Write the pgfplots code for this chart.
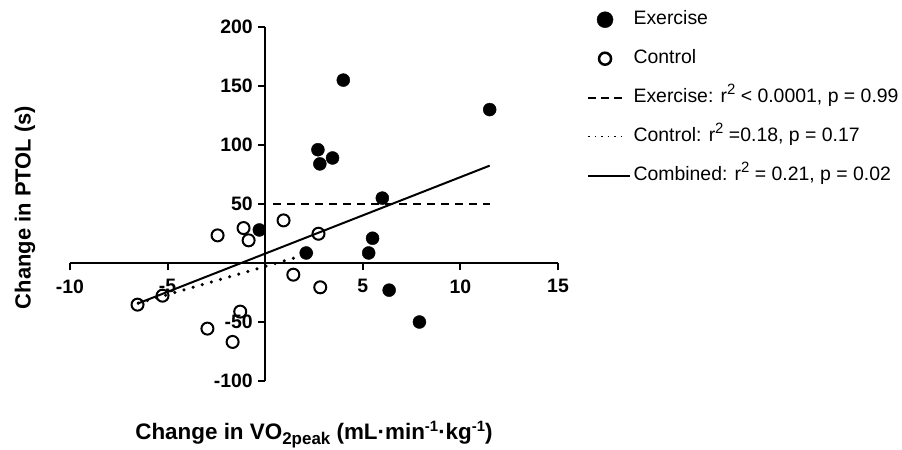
\documentclass[border=0pt]{standalone}
\usepackage{fontspec}
\setmainfont{Liberation Sans}
\usepackage{pgfplots}
\pgfplotsset{compat=1.18}
\newcommand{\subt}[1]{\raisebox{-4.5bp}{\fontsize{17}{17}\selectfont #1}}
\newcommand{\supt}[1]{\raisebox{8bp}{\fontsize{15}{15}\selectfont #1}}
\begin{document}
\begin{tikzpicture}
\useasboundingbox (0,0) rectangle (902bp,450bp);
\begin{axis}[
  at={(70bp,69bp)}, anchor=south west,
  scale only axis, width=488bp, height=354bp,
  xmin=-10, xmax=15, ymin=-100, ymax=200,
  axis lines=middle,
  axis line style={line width=2bp, -},
  tick align=outside,
  major tick length=7bp,
  every tick/.style={line width=2bp, black},
  xtick={-10,-5,5,10,15},
  ytick={-100,-50,50,100,150,200},
  minor tick num=0,
  /pgf/number format/assume math mode=true,
  tick label style={font=\bfseries\fontsize{19.5}{19.5}\selectfont},
  xticklabel style={yshift=-6bp},
  yticklabel style={xshift=-2bp},
  clip=false,
  xlabel={Change in VO\subt{2peak} (mL·min\supt{-1}·kg\supt{-1})},
  ylabel={Change in PTOL (s)},
  xlabel style={at={(axis description cs:0.5,-0.152)}, anchor=center, font=\bfseries\fontsize{22.5}{22.5}\selectfont},
  ylabel style={at={(axis description cs:-0.092,0.49)}, anchor=center, rotate=90, font=\bfseries\fontsize{22}{22}\selectfont},
  legend style={at={(axis description cs:1.053,1.06)}, anchor=north west, draw=none, fill=none,
    font=\fontsize{19.5}{19.5}\selectfont, row sep=15.5bp,
    nodes={text height=14bp, text depth=4.5bp, inner sep=2.5bp}},
  legend cell align=left,
]
% regression lines
\addplot[forget plot, line width=2bp, dash pattern=on 8bp off 6bp] coordinates {(0.4,50) (11.5,50)};
\addplot[forget plot, line width=3.5bp, dash pattern=on 0bp off 9.5bp, line cap=round] coordinates {(-6.5,-34) (2.8,10.5)};
\addplot[forget plot, line width=2bp] coordinates {(-6.55,-34.5) (11.5,82.5)};
% Exercise
\addplot[forget plot, only marks, mark=*, mark size=6.5bp, mark options={fill=black, draw=black}] coordinates {
(4.0,155) (11.5,130) (2.7,96) (2.8,84) (3.45,89) (6.0,55) (-0.3,28) (2.1,8.5) (5.5,21) (5.3,8.5) (6.35,-23) (7.9,-50)
};
% Control
\addplot[forget plot, only marks, mark=o, mark size=6bp, mark options={line width=2bp, draw=black, fill=white}] coordinates {
(-6.54,-35.3) (-5.26,-27.7) (-2.44,23.4) (-1.11,29.6) (-0.85,19.2) (0.94,36.1) (2.73,24.8) (1.44,-9.9) (2.82,-20.6) (-1.28,-41.2) (-2.96,-55.6) (-1.67,-66.9)
};
\addlegendimage{legend image code/.code={\fill[black] (17bp,0bp) circle (8bp);}}
\addlegendentry{Exercise}
\addlegendimage{legend image code/.code={\draw[black, line width=2.5bp] (17bp,0bp) circle (6bp);}}
\addlegendentry{Control}
\addlegendimage{legend image code/.code={\draw[black, line width=2bp, dash pattern=on 8bp off 5bp] (0bp,0bp) -- (37bp,0bp);}}
\addlegendentry{Exercise: r\supt{2} < 0.0001, p = 0.99}
\addlegendimage{legend image code/.code={\draw[black, line width=1.5bp, dash pattern=on 1.5bp off 5bp] (0bp,0bp) -- (37bp,0bp);}}
\addlegendentry{Control: r\supt{2} =0.18, p = 0.17}
\addlegendimage{legend image code/.code={\draw[black, line width=2bp] (0bp,0bp) -- (42bp,0bp);}}
\addlegendentry{Combined: r\supt{2} = 0.21, p = 0.02}
\end{axis}
\end{tikzpicture}
\end{document}
